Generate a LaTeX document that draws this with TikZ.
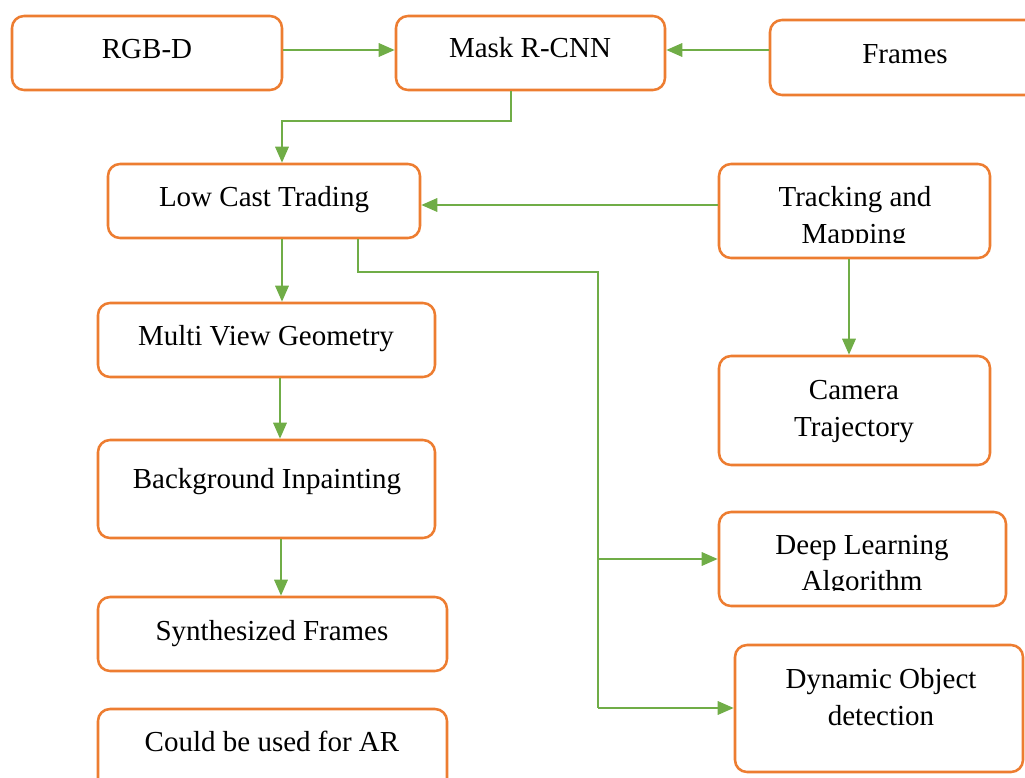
\documentclass[tikz,border=0pt]{standalone}
\usepackage{fontspec}
\setmainfont{Liberation Serif}
\usetikzlibrary{arrows.meta,fit}
\definecolor{boxorange}{HTML}{ED7D31}
\definecolor{flowgreen}{HTML}{70AD47}
\tikzset{
  stage/.style={draw=boxorange, line width=1.9pt, rounded corners=9pt, inner sep=0pt, fill=white},
  lbl/.style={anchor=base, inner sep=0pt, font=\fontsize{21.75}{27}\selectfont, text=black},
  flow/.style={draw=flowgreen, line width=1.7pt, -{Triangle[length=12pt,width=10pt]}},
  flowline/.style={draw=flowgreen, line width=1.7pt}
}
\begin{document}
\begin{tikzpicture}[x=0.75pt, y=-0.75pt]
\useasboundingbox (0,0) rectangle (1025,778);
\clip (0,0) rectangle (1025,778);

% boxes
\node[stage, fit={(12,16) (282,90)}] (rgbd) {};
\node[stage, fit={(396,16) (665,90)}] (mask) {};
\node[stage, fit={(770,20) (1045,95)}] (frames) {};
\node[stage, fit={(108,164) (420,238)}] (lowcast) {};
\node[stage, fit={(719,164) (990,258)}] (track) {};
\node[stage, fit={(98,303) (435,377)}] (multi) {};
\node[stage, fit={(719,356) (990,465)}] (camera) {};
\node[stage, fit={(98,440) (435,538)}] (inpaint) {};
\node[stage, fit={(719,512) (1006,606)}] (deep) {};
\node[stage, fit={(98,597) (447,671)}] (synth) {};
\node[stage, fit={(735,645) (1023,772)}] (dynamic) {};
\node[stage, fit={(98,709) (447,795)}] (ar) {};

% labels
\node[lbl] (rgbd-t) at (147,58) {RGB-D};
\node[lbl] (mask-t) at (530,57) {Mask R-CNN};
\node[lbl] (frames-t) at (905,63) {Frames};
\node[lbl] (lowcast-t) at (264,206) {Low Cast Trading};
\node[lbl] (track-t1) at (855,206) {Tracking and};
\begin{scope}
  \clip (725,215) rectangle (985,242);
  \node[lbl] (track-t2) at (854,243) {Mapping};
\end{scope}
\node[lbl] (multi-t) at (266,345) {Multi View Geometry};
\node[lbl] (camera-t1) at (854,399) {Camera};
\node[lbl] (camera-t2) at (854,436) {Trajectory};
\node[lbl] (inpaint-t) at (267,488) {Background Inpainting};
\node[lbl] (deep-t1) at (862,554) {Deep Learning};
\begin{scope}
  \clip (725,560) rectangle (1000,590);
  \node[lbl] (deep-t2) at (862,590) {Algorithm};
\end{scope}
\node[lbl] (synth-t) at (272,640) {Synthesized Frames};
\node[lbl] (ar-t) at (272,751) {Could be used for AR};
\node[lbl] (dyn-t1) at (881,688) {Dynamic Object};
\node[lbl] (dyn-t2) at (881,725) {detection};

% connectors
\draw[flow] (rgbd.east |- 0,50) -- (mask.west |- 0,50);
\draw[flow] (frames.west |- 0,50) -- (mask.east |- 0,50);
\draw[flow] (mask.south -| 511,0) -- (511,121) -- (282,121) -- (lowcast.north -| 282,0);
\draw[flow] (track.west |- 0,205) -- (lowcast.east |- 0,205);
\draw[flow] (lowcast.south -| 282,0) -- (multi.north -| 282,0);
\draw[flow] (track.south -| 849,0) -- (camera.north -| 849,0);
\draw[flow] (multi.south -| 280,0) -- (inpaint.north -| 280,0);
\draw[flow] (inpaint.south -| 281,0) -- (synth.north -| 281,0);
\coordinate (split) at (598,559);
\draw[flowline] (lowcast.south -| 358,0) -- (358,272) -- (598,272) -- (598,708);
\draw[flow] (split) -- (deep.west |- split);
\draw[flow] (598,708) -- (dynamic.west |- 0,708);
\end{tikzpicture}
\end{document}
